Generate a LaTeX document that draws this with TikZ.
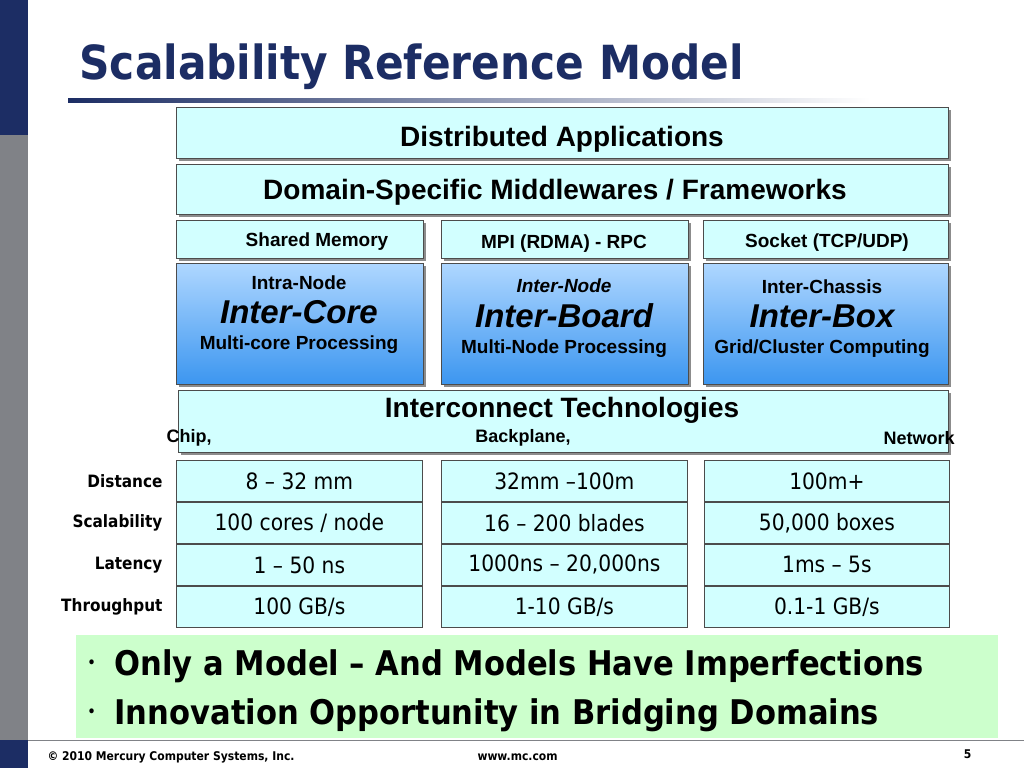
\documentclass[tikz,border=0pt]{standalone}
\usepackage{fontspec}
\setmainfont{Liberation Sans}
\newfontfamily\cond{DejaVu Sans Condensed}
\begin{document}
\begin{tikzpicture}[x=1pt,y=-1pt,
  cell/.style={draw=black!70,line width=0.8pt,fill=lcyan,minimum height=41pt,inner sep=0pt,font=\cond\fontsize{22.5}{22.5}\selectfont},
  rowlab/.style={anchor=east,font=\cond\bfseries\fontsize{17}{17}\selectfont},
  box/.style={draw=black!70,fill=lcyan,inner sep=0pt,anchor=north west},
  txt/.style={font=\bfseries\fontsize{#1}{#1}\selectfont}]
\useasboundingbox (0,0) rectangle (1024,768);
\fill[white] (0,0) rectangle (1024,768);
\definecolor{navy}{RGB}{28,45,100}
\definecolor{gbar}{RGB}{128,130,135}
\definecolor{lcyan}{RGB}{210,255,255}
\definecolor{lgreen}{RGB}{204,255,204}
\definecolor{btop}{RGB}{175,215,255}
\definecolor{bbot}{RGB}{60,150,240}
\fill[navy] (0,0) rectangle (28,135);
\fill[gbar] (0,135) rectangle (28,740);
\fill[navy] (0,740) rectangle (28,768);
\draw[gbar,line width=1pt] (28,740) -- (1024,740);
\node[anchor=base west,text=navy,font=\cond\bfseries\fontsize{47}{47}\selectfont] (title) at (76,79) {Scalability Reference Model};
\shade[left color=navy,right color=white] (68,98) rectangle (870,102);
\foreach \a/\b/\c/\d in {176/107/948/158,176/164/948/214,176/220/423/258,441/220/688/258,703/220/948/258,176/263/423/384,441/263/688/384,703/263/948/384,178/390/948/452}
  \fill[black!45] (\a+3,\b+3) rectangle (\c+3,\d+3);
\node[box,minimum width=772pt,minimum height=51pt] (da) at (176,107) {};
\node[txt=28,anchor=base] (dal) at (562,146) {Distributed Applications};
\node[box,minimum width=772pt,minimum height=50pt] (dsm) at (176,164) {};
\node[txt=28,anchor=base] (dsml) at (555,199) {Domain-Specific Middlewares / Frameworks};
\node[box,minimum width=247pt,minimum height=38pt] (sm) at (176,220) {};
\node[box,minimum width=247pt,minimum height=38pt] (mpi) at (441,220) {};
\node[box,minimum width=245pt,minimum height=38pt] (sock) at (703,220) {};
\node[txt=19,anchor=base] (sml) at (317,246) {Shared Memory};
\node[txt=19,anchor=base] (mpil) at (564,248) {MPI (RDMA) - RPC};
\node[txt=19,anchor=base] (sockl) at (827,247) {Socket (TCP/UDP)};
\foreach \x/\w in {176/247,441/247,703/245}{
  \shade[top color=btop,bottom color=bbot,draw=black!70] (\x,263) rectangle (\x+\w,384);
}
\node[txt=19,align=center] (ic) at (299,315) {Intra-Node\\[10pt]{\fontsize{33}{33}\selectfont\itshape Inter-Core}\\[7pt]Multi-core Processing};
\node[txt=19,align=center] (ib) at (564,318) {\itshape Inter-Node\\[10pt]{\fontsize{33}{33}\selectfont\itshape Inter-Board}\\[7pt]Multi-Node Processing};
\node[txt=19,align=center] (ibx) at (822,319) {Inter-Chassis\\[10pt]{\fontsize{33}{33}\selectfont\itshape Inter-Box}\\[7pt]Grid/Cluster Computing};
\node[box,minimum width=770pt,minimum height=62pt] (it) at (178,390) {};
\node[txt=28] (itl) at (562,410) {Interconnect Technologies};
\node[txt=18] (chip) at (189,438) {Chip,};
\node[txt=18] (bp) at (523,438) {Backplane,};
\node[txt=18] (net) at (919,438) {Network};
\foreach \r/\y/\l/\a/\b/\c in {r1/460/Distance/{8 – 32 mm}/{32mm –100m}/{100m+},
  r2/502/Scalability/{100 cores / node}/{16 – 200 blades}/{50,000 boxes},
  r3/544/Latency/{1 – 50 ns}/{1000ns – 20,000ns}/{1ms – 5s},
  r4/586/Throughput/{100 GB/s}/{1-10 GB/s}/{0.1-1 GB/s}}{
  \node[cell,minimum width=246pt,anchor=north west] (\r a) at (176,\y) {\a};
  \node[cell,minimum width=246pt,anchor=north west] (\r b) at (441,\y) {\b};
  \node[cell,minimum width=245pt,anchor=north west] (\r c) at (704,\y) {\c};
  \node[rowlab] (\r l) at (166,\y+21) {\l};
}
\fill[lgreen] (76,635) rectangle (998,738);
\node[anchor=base west,font=\cond\bfseries\fontsize{34}{34}\selectfont] (bl1) at (84,675) {\raisebox{8pt}{\fontsize{14}{14}\selectfont\textbullet}\hspace{19pt}Only a Model – And Models Have Imperfections};
\node[anchor=base west,font=\cond\bfseries\fontsize{34}{34}\selectfont] (bl2) at (84,724) {\raisebox{8pt}{\fontsize{14}{14}\selectfont\textbullet}\hspace{19pt}Innovation Opportunity in Bridging Domains};
\node[anchor=base west,font=\cond\bfseries\fontsize{12}{12}\selectfont] (f1) at (44,760) {© 2010 Mercury Computer Systems, Inc.};
\node[anchor=base west,font=\cond\bfseries\fontsize{12}{12}\selectfont] (f2) at (474,760) {www.mc.com};
\node[anchor=base east,font=\cond\bfseries\fontsize{12}{12}\selectfont] (f3) at (975,758) {5};
\end{tikzpicture}
\end{document}
